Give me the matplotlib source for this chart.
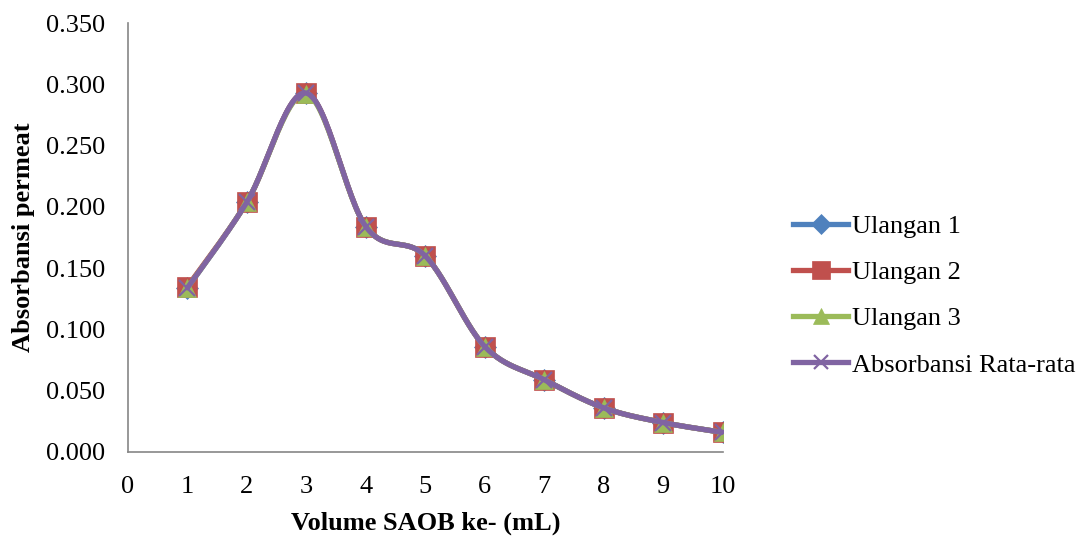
import numpy as np
import matplotlib
matplotlib.use("Agg")
import matplotlib.pyplot as plt

volume = [1, 2, 3, 4, 5, 6, 7, 8, 9, 10]
ulangan1 = [0.134, 0.204, 0.293, 0.184, 0.160, 0.086, 0.059, 0.036, 0.024, 0.016]
ulangan2 = [0.135, 0.204, 0.293, 0.184, 0.160, 0.086, 0.059, 0.036, 0.024, 0.016]
ulangan3 = [0.134, 0.204, 0.292, 0.184, 0.160, 0.086, 0.059, 0.036, 0.024, 0.016]
rata = [0.134, 0.204, 0.293, 0.184, 0.160, 0.086, 0.059, 0.036, 0.024, 0.016]

labels = ["Ulangan 1", "Ulangan 2", "Ulangan 3", "Absorbansi Rata-rata"]
colors = ["#4F81BD", "#C0504D", "#9BBB59", "#8064A2"]
markers = ["D", "s", "^", "x"]
msizes = [11, 14, 13, 11]

xticks = list(range(0, 11))
yticks = [0.0, 0.05, 0.10, 0.15, 0.20, 0.25, 0.30, 0.35]


def smooth(x, y, n=30):
    # Excel-style bezier smoothing (Catmull-Rom control points)
    x = np.asarray(x, float)
    y = np.asarray(y, float)
    P = np.column_stack([x, y])
    out = []
    for i in range(len(P) - 1):
        p0 = P[i - 1] if i > 0 else P[i]
        p1 = P[i]
        p2 = P[i + 1]
        p3 = P[i + 2] if i + 2 < len(P) else P[i + 1]
        c1 = p1 + (p2 - p0) / 6.0
        c2 = p2 - (p3 - p1) / 6.0
        t = np.linspace(0, 1, n)[:, None]
        seg = ((1 - t) ** 3) * p1 + 3 * ((1 - t) ** 2) * t * c1 + 3 * (1 - t) * t ** 2 * c2 + t ** 3 * p2
        out.append(seg if i == 0 else seg[1:])
    s = np.vstack(out)
    return s[:, 0], s[:, 1]


plt.rcParams['font.family'] = ['Liberation Serif', 'DejaVu Serif']
FS = 19

fig = plt.figure(figsize=(10.9, 5.4), dpi=100)
ax = fig.add_axes([0.1174, 0.163, 0.5456, 0.794])

series = [ulangan1, ulangan2, ulangan3, rata]
handles = []
for k, (ys, lab, c, m, ms) in enumerate(zip(series, labels, colors, markers, msizes)):
    sx, sy = smooth(volume, ys)
    mew = 1.6 if m == 'x' else 0.5
    ax.plot(sx, sy, color=c, lw=3.8, solid_capstyle='round', zorder=2 + k)
    ax.plot(volume, ys, linestyle='none', marker=m, color=c, ms=ms,
            mew=mew, mec=c, zorder=2 + k)
    h, = ax.plot([], [], color=c, lw=3.8, marker=m, ms=ms * 0.9, mew=mew, mec=c)
    handles.append(h)

ax.set_xlim(0, 10)
ax.set_ylim(0, 0.35)
ax.set_xticks(xticks)
ax.set_yticks(yticks)
ax.set_yticklabels([f"{v:.3f}" for v in yticks])
ax.tick_params(axis='both', length=0, labelsize=FS, colors='black')
ax.tick_params(axis='y', pad=16.5)
ax.tick_params(axis='x', pad=17)
for s in ['top', 'right']:
    ax.spines[s].set_visible(False)
for s in ['left', 'bottom']:
    ax.spines[s].set_color('#868686')
    ax.spines[s].set_linewidth(1.2)

ax.set_xlabel("Volume SAOB ke- (mL)", fontsize=FS, fontweight='bold', labelpad=10)
ax.set_ylabel("Absorbansi permeat", fontsize=FS, fontweight='bold', labelpad=8)

leg = fig.legend(handles, labels, loc='upper left', bbox_to_anchor=(0.718, 0.622),
                 frameon=False, fontsize=FS, handlelength=2.08, handletextpad=0.15,
                 labelspacing=0.86, borderaxespad=0)

fig.savefig("out.png", dpi=100, facecolor='white')
